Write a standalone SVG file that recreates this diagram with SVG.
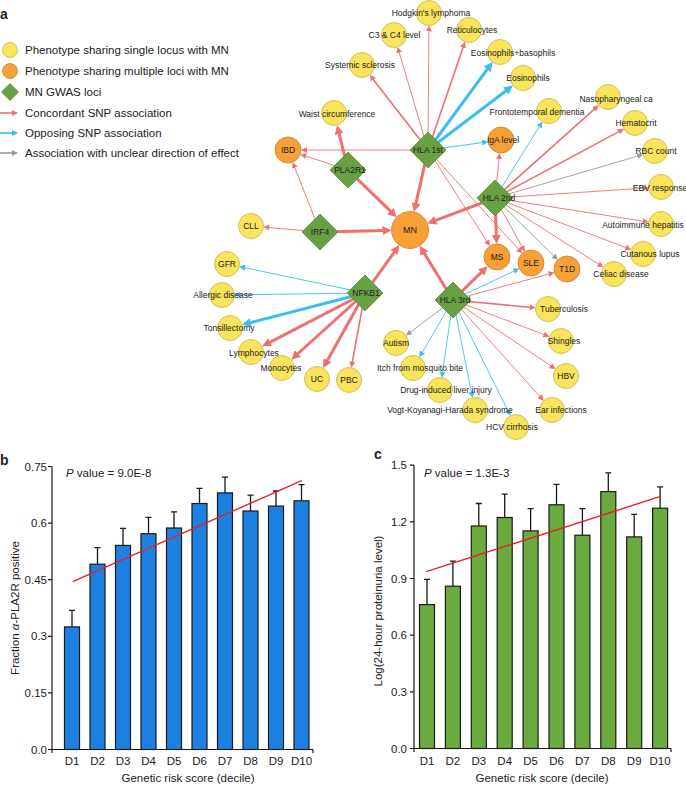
<svg xmlns="http://www.w3.org/2000/svg" width="686" height="785" viewBox="0 0 686 785">
<defs>
<style>
text{font-family:"Liberation Sans",Arial,sans-serif;fill:#222}
.lg{font-size:11.5px}
.nl{font-size:8.5px;text-anchor:middle}
.pl{font-size:14px;font-weight:bold}
.tk{font-size:11.5px;text-anchor:end}
.xl{font-size:11.5px;text-anchor:middle}
.y{fill:#F9E45B;stroke:#C8B24A;stroke-width:0.8}
.o{fill:#F7A035;stroke:#C98230;stroke-width:0.8}
.g{fill:#68A044;stroke:#5B8E3B;stroke-width:0.8}
.r{stroke:#F07070;fill:none}
.b{stroke:#3BBEEF;fill:none}
.k{stroke:#9A9A9A;fill:none}
.t1{stroke-width:0.9}
.t2{stroke-width:1.6}
.t3{stroke-width:3}
.rs{marker-end:url(#mrs)}
.rl{marker-end:url(#mrl)}
.bs{marker-end:url(#mbs)}
.bl{marker-end:url(#mbl)}
.ks{marker-end:url(#mks)}
.bar1{fill:#1B80E0;stroke:#1a1a1a;stroke-width:1.2}
.bar2{fill:#6AAA3E;stroke:#1a1a1a;stroke-width:1.2}
.ax{stroke:#1a1a1a;stroke-width:1.2;fill:none}
.eb{stroke:#1a1a1a;stroke-width:1.3;fill:none}
.fit{stroke:#E5222A;stroke-width:1.4}
</style>
<marker id="mrs" viewBox="0 0 10 10" refX="4" refY="5" markerWidth="6" markerHeight="6" markerUnits="userSpaceOnUse" orient="auto"><path d="M0,0L10,5L0,10z" fill="#F07070"/></marker>
<marker id="mrl" viewBox="0 0 10 10" refX="4" refY="5" markerWidth="9" markerHeight="9" markerUnits="userSpaceOnUse" orient="auto"><path d="M0,0L10,5L0,10z" fill="#F07070"/></marker>
<marker id="mbs" viewBox="0 0 10 10" refX="4" refY="5" markerWidth="6" markerHeight="6" markerUnits="userSpaceOnUse" orient="auto"><path d="M0,0L10,5L0,10z" fill="#3BBEEF"/></marker>
<marker id="mbl" viewBox="0 0 10 10" refX="4" refY="5" markerWidth="9" markerHeight="9" markerUnits="userSpaceOnUse" orient="auto"><path d="M0,0L10,5L0,10z" fill="#3BBEEF"/></marker>
<marker id="mks" viewBox="0 0 10 10" refX="4" refY="5" markerWidth="6" markerHeight="6" markerUnits="userSpaceOnUse" orient="auto"><path d="M0,0L10,5L0,10z" fill="#9A9A9A"/></marker>
</defs>
<rect width="686" height="785" fill="#fff"/>

<g id="legend">
<text class="pl" x="0" y="19">a</text>
<circle class="y" cx="10" cy="50" r="7.5"/>
<text class="lg" x="25" y="54">Phenotype sharing single locus with MN</text>
<circle class="o" cx="10" cy="71" r="7.5"/>
<text class="lg" x="25" y="75">Phenotype sharing multiple loci with MN</text>
<path class="g" d="M10,83.5L18.5,92L10,100.5L1.5,92z"/>
<text class="lg" x="25" y="96">MN GWAS loci</text>
<line class="r t2 rs" x1="0" y1="113" x2="14.4" y2="113"/>
<text class="lg" x="25" y="117">Concordant SNP association</text>
<line class="b t2 bs" x1="0" y1="133" x2="14.4" y2="133"/>
<text class="lg" x="25" y="137">Opposing SNP association</text>
<line class="k t2 ks" x1="0" y1="153" x2="14.4" y2="153"/>
<text class="lg" x="25" y="157">Association with unclear direction of effect</text>
</g>

<g id="connectors">
<line class="r t1 rs" x1="428" y1="150" x2="428.9" y2="29.1"/>
<line class="r t1 rs" x1="428" y1="150" x2="398.6" y2="50.4"/>
<line class="r t2 rs" x1="428" y1="150" x2="371.9" y2="77.7"/>
<line class="r t2 rs" x1="428" y1="150" x2="463.8" y2="45.2"/>
<line class="b t3 bl" x1="428" y1="150" x2="489.4" y2="66.4"/>
<line class="b t3 bl" x1="428" y1="150" x2="508.7" y2="88.8"/>
<line class="b t1 bs" x1="428" y1="150" x2="484.6" y2="142.3"/>
<line class="r t1 rs" x1="428" y1="150" x2="304.6" y2="150"/>
<line class="r t3 rl" x1="428" y1="150" x2="415.2" y2="206.7"/>
<line class="r t1 rs" x1="428" y1="150" x2="488.0" y2="243.0"/>
<line class="r t1 rs" x1="428" y1="150" x2="519.8" y2="250.7"/>

<line class="r t3 rl" x1="348" y1="170" x2="392.8" y2="213.4"/>
<line class="r t3 rl" x1="348" y1="170" x2="338.3" y2="130.4"/>
<line class="r t1 rs" x1="348" y1="170" x2="303.8" y2="155.3"/>

<line class="r t3 rl" x1="320" y1="232" x2="386.1" y2="230.5"/>
<line class="r t1 rs" x1="320" y1="232" x2="267.0" y2="227.4"/>
<line class="r t1 rs" x1="320" y1="232" x2="294.0" y2="165.5"/>

<line class="r t3 rl" x1="365" y1="293" x2="396.1" y2="249.5"/>
<line class="b t1 bs" x1="365" y1="293" x2="242.8" y2="267.3"/>
<line class="b t1 bs" x1="365" y1="293" x2="238.1" y2="294.8"/>
<line class="b t3 bl" x1="365" y1="293" x2="247.3" y2="323.5"/>
<line class="r t3 rl" x1="365" y1="293" x2="266.9" y2="343.8"/>
<line class="r t3 rl" x1="365" y1="293" x2="295.3" y2="356.0"/>
<line class="r t3 rl" x1="365" y1="293" x2="325.7" y2="363.4"/>
<line class="r t2 rs" x1="365" y1="293" x2="351.9" y2="364.2"/>

<line class="r t3 rl" x1="495" y1="198" x2="432.4" y2="221.6"/>
<line class="r t1 rs" x1="495" y1="198" x2="499.3" y2="156.5"/>
<line class="b t1 bs" x1="495" y1="198" x2="540.5" y2="124.7"/>
<line class="r t2 rs" x1="495" y1="198" x2="596.0" y2="107.7"/>
<line class="r t2 rs" x1="495" y1="198" x2="620.8" y2="130.6"/>
<line class="k t1 ks" x1="495" y1="198" x2="639.6" y2="155.5"/>
<line class="r t1 rs" x1="495" y1="198" x2="644.9" y2="188.1"/>
<line class="r t1 rs" x1="495" y1="198" x2="645.1" y2="221.5"/>
<line class="r t1 rs" x1="495" y1="198" x2="627.9" y2="248.3"/>
<line class="r t1 rs" x1="495" y1="198" x2="600.4" y2="265.3"/>
<line class="k t1 ks" x1="495" y1="198" x2="555.2" y2="257.3"/>
<line class="r t1 rs" x1="495" y1="198" x2="523.0" y2="248.5"/>
<line class="r t3 rl" x1="495" y1="198" x2="496.4" y2="238.6"/>

<line class="r t3 rl" x1="453" y1="300" x2="422.5" y2="250.4"/>
<line class="r t3 rl" x1="453" y1="300" x2="483.8" y2="269.9"/>
<line class="b t1 bs" x1="453" y1="300" x2="516.0" y2="270.1"/>
<line class="r t1 rs" x1="453" y1="300" x2="551.0" y2="273.4"/>
<line class="r t2 rs" x1="453" y1="300" x2="532.0" y2="307.5"/>
<line class="r t1 rs" x1="453" y1="300" x2="546.0" y2="335.3"/>
<line class="r t1 rs" x1="453" y1="300" x2="552.6" y2="367.0"/>
<line class="r t1 rs" x1="453" y1="300" x2="541.2" y2="398.0"/>
<line class="b t1 bs" x1="453" y1="300" x2="508.8" y2="412.6"/>
<line class="b t1 bs" x1="453" y1="300" x2="471.8" y2="394.2"/>
<line class="b t1 bs" x1="453" y1="300" x2="442.3" y2="374.1"/>
<line class="b t1 bs" x1="453" y1="300" x2="421.2" y2="354.1"/>
<line class="k t1 ks" x1="453" y1="300" x2="408.9" y2="333.3"/>
</g>

<g id="n-hodgkin"><circle class="y" cx="429" cy="13" r="12.5"/><text class="nl" x="431" y="16">Hodgkin's lymphoma</text></g>
<g id="n-c3c4"><circle class="y" cx="394" cy="35" r="12.5"/><text class="nl" x="394.5" y="38">C3 &amp; C4 level</text></g>
<g id="n-systemic"><circle class="y" cx="362" cy="65" r="12.5"/><text class="nl" x="360" y="68">Systemic sclerosis</text></g>
<g id="n-waist"><circle class="y" cx="334" cy="113" r="12.5"/><text class="nl" x="337" y="117">Waist circumference</text></g>
<g id="n-ibd"><circle class="o" cx="288" cy="150" r="13"/><text class="nl" x="288" y="153">IBD</text></g>
<g id="n-reticulocytes"><circle class="y" cx="469" cy="30" r="12.5"/><text class="nl" x="472" y="33">Reticulocytes</text></g>
<g id="n-eosbaso"><circle class="y" cx="500" cy="52" r="12.5"/><text class="nl" x="513" y="56">Eosinophils+basophils</text></g>
<g id="n-eos"><circle class="y" cx="523" cy="78" r="12.5"/><text class="nl" x="528" y="81">Eosinophils</text></g>
<g id="n-fronto"><circle class="y" cx="549" cy="111" r="12.5"/><text class="nl" x="537" y="115">Frontotemporal dementia</text></g>
<g id="n-iga"><circle class="o" cx="501" cy="140" r="13"/><text class="nl" x="503" y="143">IgA level</text></g>
<g id="n-naso"><circle class="y" cx="608" cy="97" r="12.5"/><text class="nl" x="616" y="102">Nasopharyngeal ca</text></g>
<g id="n-hematocrit"><circle class="y" cx="635" cy="123" r="12.5"/><text class="nl" x="636" y="126">Hematocrit</text></g>
<g id="n-rbc"><circle class="y" cx="655" cy="151" r="12.5"/><text class="nl" x="656" y="154">RBC count</text></g>
<g id="n-ebv"><circle class="y" cx="661" cy="187" r="12.5"/><text class="nl" x="660" y="191">EBV response</text></g>
<g id="n-aih"><circle class="y" cx="661" cy="224" r="12.5"/><text class="nl" x="643" y="228">Autoimmune hepatitis</text></g>
<g id="n-cutanous"><circle class="y" cx="643" cy="254" r="12.5"/><text class="nl" x="650" y="257">Cutanous lupus</text></g>
<g id="n-celiac"><circle class="y" cx="614" cy="274" r="12.5"/><text class="nl" x="621" y="277">Celiac disease</text></g>
<g id="n-t1d"><circle class="o" cx="567" cy="269" r="13"/><text class="nl" x="567" y="272">T1D</text></g>
<g id="n-sle"><circle class="o" cx="531" cy="263" r="13"/><text class="nl" x="531" y="266">SLE</text></g>
<g id="n-ms"><circle class="o" cx="497" cy="257" r="13"/><text class="nl" x="497" y="260">MS</text></g>
<g id="n-cll"><circle class="y" cx="251" cy="226" r="12.5"/><text class="nl" x="251" y="229">CLL</text></g>
<g id="n-gfr"><circle class="y" cx="227" cy="264" r="12.5"/><text class="nl" x="227" y="267">GFR</text></g>
<g id="n-allergic"><circle class="y" cx="222" cy="295" r="12.5"/><text class="nl" x="223" y="298">Allergic disease</text></g>
<g id="n-tonsil"><circle class="y" cx="230" cy="328" r="12.5"/><text class="nl" x="229" y="331">Tonsillectomy</text></g>
<g id="n-lympho"><circle class="y" cx="251" cy="352" r="12.5"/><text class="nl" x="254" y="356">Lymphocytes</text></g>
<g id="n-mono"><circle class="y" cx="282" cy="368" r="12.5"/><text class="nl" x="281" y="371">Monocytes</text></g>
<g id="n-uc"><circle class="y" cx="317" cy="379" r="12.5"/><text class="nl" x="317" y="382">UC</text></g>
<g id="n-pbc"><circle class="y" cx="349" cy="380" r="12.5"/><text class="nl" x="349" y="383">PBC</text></g>
<g id="n-autism"><circle class="y" cx="396" cy="343" r="12.5"/><text class="nl" x="396" y="346">Autism</text></g>
<g id="n-itch"><circle class="y" cx="413" cy="368" r="12.5"/><text class="nl" x="420" y="371">Itch from mosquito bite</text></g>
<g id="n-drug"><circle class="y" cx="440" cy="390" r="12.5"/><text class="nl" x="446" y="393">Drug-induced liver injury</text></g>
<g id="n-vogt"><circle class="y" cx="475" cy="410" r="12.5"/><text class="nl" x="450" y="413">Vogt-Koyanagi-Harada syndrome</text></g>
<g id="n-hcv"><circle class="y" cx="516" cy="427" r="12.5"/><text class="nl" x="512" y="430">HCV cirrhosis</text></g>
<g id="n-ear"><circle class="y" cx="552" cy="410" r="12.5"/><text class="nl" x="561" y="413">Ear infections</text></g>
<g id="n-hbv"><circle class="y" cx="566" cy="376" r="12.5"/><text class="nl" x="566" y="379">HBV</text></g>
<g id="n-shingles"><circle class="y" cx="561" cy="341" r="12.5"/><text class="nl" x="564" y="344">Shingles</text></g>
<g id="n-tb"><circle class="y" cx="548" cy="309" r="12.5"/><text class="nl" x="564" y="312">Tuberculosis</text></g>

<g id="n-mn"><circle class="o" cx="410" cy="230" r="18.5"/><text class="nl" x="410" y="233" style="font-size:9px">MN</text></g>
<g id="n-hla1"><path class="g" d="M428,132L446,150L428,168L410,150z"/><text class="nl" x="428" y="153">HLA 1st</text></g>
<g id="n-pla2r1"><path class="g" d="M348,152L366,170L348,188L330,170z"/><text class="nl" x="350" y="173">PLA2R1</text></g>
<g id="n-irf4"><path class="g" d="M320,214L338,232L320,250L302,232z"/><text class="nl" x="320" y="235">IRF4</text></g>
<g id="n-nfkb1"><path class="g" d="M365,275L383,293L365,311L347,293z"/><text class="nl" x="366" y="296">NFKB1</text></g>
<g id="n-hla2"><path class="g" d="M495,180L513,198L495,216L477,198z"/><text class="nl" x="499" y="201">HLA 2nd</text></g>
<g id="n-hla3"><path class="g" d="M453,282L471,300L453,318L435,300z"/><text class="nl" x="455" y="303">HLA 3rd</text></g>

<g id="chart-b">
<text class="pl" x="0" y="465">b</text>
<rect class="bar1" x="64.5" y="626.9" width="15" height="122.6"/>
<rect class="bar1" x="90" y="564.2" width="15" height="185.3"/>
<rect class="bar1" x="115.5" y="545.4" width="15" height="204.1"/>
<rect class="bar1" x="141" y="533.7" width="15" height="215.8"/>
<rect class="bar1" x="166.5" y="528.0" width="15" height="221.5"/>
<rect class="bar1" x="192" y="503.5" width="15" height="246"/>
<rect class="bar1" x="217.5" y="492.9" width="15" height="256.6"/>
<rect class="bar1" x="243" y="511.0" width="15" height="238.5"/>
<rect class="bar1" x="268.5" y="506.1" width="15" height="243.4"/>
<rect class="bar1" x="294" y="500.8" width="15" height="248.7"/>
<path class="eb" d="M72,626.9V610.3M69,610.3H75M97.5,564.2V547.6M94.5,547.6H100.5M123,545.4V528.4M120,528.4H126M148.5,533.7V517.4M145.5,517.4H151.5M174,528V511.8M171,511.8H177M199.5,503.5V488.4M196.5,488.4H202.5M225,492.9V477.1M222,477.1H228M250.5,511V495.2M247.5,495.2H253.5M276,506.1V491M273,491H279M301.5,500.8V484.6M298.5,484.6H304.5"/>
<path class="ax" d="M52,466.5V749.5H313M48,466.5H52M48,523.1H52M48,579.7H52M48,636.3H52M48,692.9H52M48,749.5H52M52,749.5V753M313,749.5V753"/>
<line class="fit" x1="72.7" y1="581.7" x2="301.7" y2="480.7"/>
<text class="lg" x="66" y="477"><tspan font-style="italic">P</tspan> value = 9.0E-8</text>
<text class="tk" x="47" y="470.5">0.75</text>
<text class="tk" x="47" y="527.1">0.6</text>
<text class="tk" x="47" y="583.7">0.45</text>
<text class="tk" x="47" y="640.3">0.3</text>
<text class="tk" x="47" y="696.9">0.15</text>
<text class="tk" x="47" y="753.5">0.0</text>
<text class="xl" x="72" y="765">D1</text>
<text class="xl" x="97.5" y="765">D2</text>
<text class="xl" x="123" y="765">D3</text>
<text class="xl" x="148.5" y="765">D4</text>
<text class="xl" x="174" y="765">D5</text>
<text class="xl" x="199.5" y="765">D6</text>
<text class="xl" x="225" y="765">D7</text>
<text class="xl" x="250.5" y="765">D8</text>
<text class="xl" x="276" y="765">D9</text>
<text class="xl" x="301.5" y="765">D10</text>
<text class="xl" x="188" y="781.5">Genetic risk score (decile)</text>
<text class="xl" transform="translate(19,608) rotate(-90)">Fraction <tspan font-style="italic">α</tspan>-PLA2R positive</text>
</g>

<g id="chart-c">
<text class="pl" x="374" y="459">c</text>
<rect class="bar2" x="419.5" y="604.6" width="15" height="143.9"/>
<rect class="bar2" x="445.4" y="586.2" width="15" height="162.3"/>
<rect class="bar2" x="471.3" y="526.0" width="15" height="222.5"/>
<rect class="bar2" x="497.2" y="517.5" width="15" height="231"/>
<rect class="bar2" x="523.1" y="530.9" width="15" height="217.6"/>
<rect class="bar2" x="549" y="504.8" width="15" height="243.7"/>
<rect class="bar2" x="574.9" y="535.2" width="15" height="213.3"/>
<rect class="bar2" x="600.8" y="491.6" width="15" height="256.9"/>
<rect class="bar2" x="626.7" y="536.9" width="15" height="211.6"/>
<rect class="bar2" x="652.6" y="508.2" width="15" height="240.3"/>
<path class="eb" d="M427,604.6V579.4M424,579.4H430M452.9,586.2V561.1M449.9,561.1H455.9M478.8,526V503.5M475.8,503.5H481.8M504.7,517.5V494.2M501.7,494.2H507.7M530.6,530.9V508.6M527.6,508.6H533.6M556.5,504.8V484.4M553.5,484.4H559.5M582.4,535.2V508.6M579.4,508.6H585.4M608.3,491.6V472.9M605.3,472.9H611.3M634.2,536.9V514.3M631.2,514.3H637.2M660.1,508.2V486.9M657.1,486.9H663.1"/>
<path class="ax" d="M414,465.2V748.5H671M410,465.2H414M410,521.8H414M410,578.5H414M410,635.2H414M410,691.8H414M410,748.5H414M414,748.5V752M671,748.5V752"/>
<line class="fit" x1="426.3" y1="571.7" x2="659.7" y2="496.7"/>
<text class="lg" x="424" y="477"><tspan font-style="italic">P</tspan> value = 1.3E-3</text>
<text class="tk" x="407" y="469.2">1.5</text>
<text class="tk" x="407" y="525.8">1.2</text>
<text class="tk" x="407" y="582.5">0.9</text>
<text class="tk" x="407" y="639.2">0.6</text>
<text class="tk" x="407" y="695.8">0.3</text>
<text class="tk" x="407" y="752.5">0.0</text>
<text class="xl" x="427" y="765">D1</text>
<text class="xl" x="452.9" y="765">D2</text>
<text class="xl" x="478.8" y="765">D3</text>
<text class="xl" x="504.7" y="765">D4</text>
<text class="xl" x="530.6" y="765">D5</text>
<text class="xl" x="556.5" y="765">D6</text>
<text class="xl" x="582.4" y="765">D7</text>
<text class="xl" x="608.3" y="765">D8</text>
<text class="xl" x="634.2" y="765">D9</text>
<text class="xl" x="660.1" y="765">D10</text>
<text class="xl" x="542" y="781.5">Genetic risk score (decile)</text>
<text class="xl" transform="translate(382,611) rotate(-90)">Log(24-hour proteinuria level)</text>
</g>
</svg>
